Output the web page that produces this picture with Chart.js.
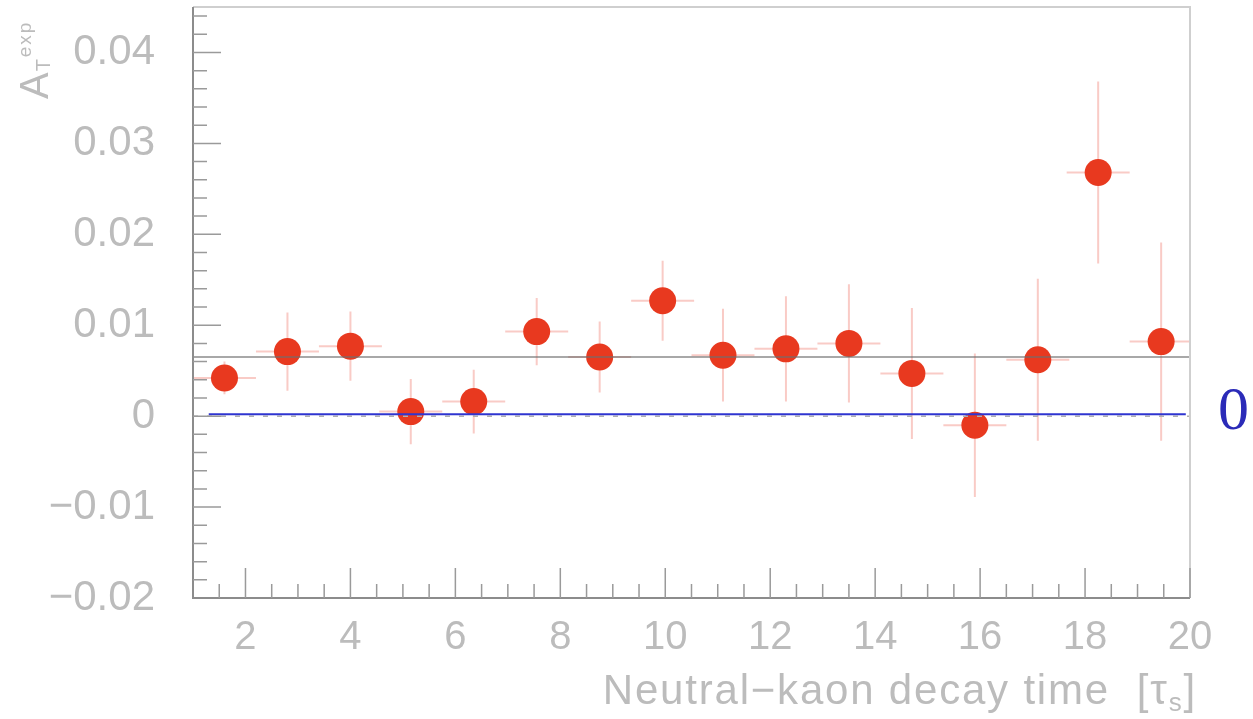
<!DOCTYPE html>
<html>
<head>
<meta charset="utf-8">
<script src="https://cdn.jsdelivr.net/npm/chart.js@4.4.1/dist/chart.umd.min.js"></script>
<style>
  html, body { margin: 0; padding: 0; background: #fff; }
  canvas { display: block; }
</style>
</head>
<body>
<canvas id="chart" width="1253" height="719"></canvas>
<script>
// bin centres (in units of tau_S) and measured asymmetry per bin
const decayTime = [1.6, 2.8, 4.0, 5.15, 6.35, 7.55, 8.75, 9.95, 11.1, 12.3, 13.5, 14.7, 15.9, 17.1, 18.25, 19.45];
const asymmetry = [0.0042, 0.0071, 0.0077, 0.0005, 0.0016, 0.0093, 0.0065, 0.0127, 0.0067, 0.0074, 0.0080, 0.0047, -0.0010, 0.0062, 0.0268, 0.0082];
const asymErr = [0.0018, 0.0043, 0.0038, 0.0036, 0.0035, 0.0037, 0.0039, 0.0044, 0.0051, 0.0058, 0.0065, 0.0072, 0.0079, 0.0089, 0.0100, 0.0109];
const binHalfWidth = [0.6, 0.6, 0.6, 0.6, 0.6, 0.6, 0.6, 0.6, 0.6, 0.6, 0.6, 0.6, 0.6, 0.6, 0.6, 0.6];

const meanAsym = 0.0065;
const zeroMark = 0.0002;
const zeroMarkRange = [1.3, 19.92];

const xTicks = [2, 4, 6, 8, 10, 12, 14, 16, 18, 20];
const yTicks = [-0.02, -0.01, 0, 0.01, 0.02, 0.03, 0.04];

const X_MIN = 1, X_MAX = 20;
const Y_MIN = -0.02, Y_MAX = 0.045;

const LABEL_GREY = "#bcbcbc";
const AXIS_GREY = "#8c8c8c";
const FONT = "'Liberation Sans', Arial, sans-serif";

function formatY(v) {
  if (Math.abs(v) < 1e-9) return "0";
  const s = Math.abs(v).toFixed(2);
  return v < 0 ? "\u2212" + s : s;
}

const points = decayTime.map((t, i) => ({ x: t, y: asymmetry[i] }));

const rootStyle = {
  id: "rootStyle",
  beforeDatasetsDraw(chart) {
    const { ctx, chartArea, scales } = chart;
    const xs = scales.x, ys = scales.y;
    ctx.save();
    ctx.beginPath();
    ctx.rect(chartArea.left, chartArea.top, chartArea.right - chartArea.left, chartArea.bottom - chartArea.top);
    ctx.clip();
    ctx.strokeStyle = "rgba(240,130,120,0.42)";
    ctx.lineWidth = 2;
    decayTime.forEach((t, i) => {
      const px = xs.getPixelForValue(t);
      const py = ys.getPixelForValue(asymmetry[i]);
      ctx.beginPath();
      ctx.moveTo(xs.getPixelForValue(t - binHalfWidth[i]), py);
      ctx.lineTo(xs.getPixelForValue(t + binHalfWidth[i]), py);
      ctx.moveTo(px, ys.getPixelForValue(asymmetry[i] - asymErr[i]));
      ctx.lineTo(px, ys.getPixelForValue(asymmetry[i] + asymErr[i]));
      ctx.stroke();
    });
    ctx.restore();
  },
  afterDraw(chart) {
    const { ctx, chartArea, scales } = chart;
    const xs = scales.x, ys = scales.y;
    const { left, right, top, bottom } = chartArea;

    ctx.save();
    // frame
    ctx.lineWidth = 2;
    ctx.strokeStyle = "#cfcfcf";
    ctx.beginPath();
    ctx.moveTo(left, top);
    ctx.lineTo(right, top);
    ctx.lineTo(right, bottom);
    ctx.stroke();
    ctx.strokeStyle = AXIS_GREY;
    ctx.beginPath();
    ctx.moveTo(left, top);
    ctx.lineTo(left, bottom);
    ctx.lineTo(right, bottom);
    ctx.stroke();

    // inward ticks
    ctx.lineWidth = 1.5;
    ctx.strokeStyle = "#9a9a9a";
    ctx.beginPath();
    for (let k = 0; k <= 38; k++) {
      const v = X_MIN + k * 0.5;
      if (v <= X_MIN || v > X_MAX) continue;
      const px = xs.getPixelForValue(v);
      const major = Math.abs(v / 2 - Math.round(v / 2)) < 1e-6;
      ctx.moveTo(px, bottom);
      ctx.lineTo(px, bottom - (major ? 30 : 14));
    }
    for (let k = 0; k <= 32; k++) {
      const v = Y_MIN + k * 0.002;
      if (v <= Y_MIN + 1e-9 || v > Y_MAX) continue;
      const py = ys.getPixelForValue(v);
      const major = Math.abs(v / 0.01 - Math.round(v / 0.01)) < 1e-6;
      ctx.moveTo(left, py);
      ctx.lineTo(left + (major ? 28 : 14), py);
    }
    ctx.stroke();

    // x title
    ctx.fillStyle = LABEL_GREY;
    ctx.textBaseline = "alphabetic";
    ctx.textAlign = "left";
    ctx.letterSpacing = "1.8px";
    const main = "Neutral\u2212kaon decay time  [\u03c4";
    ctx.font = "26px " + FONT;
    const subW = ctx.measureText("s").width;
    ctx.font = "42px " + FONT;
    const closeW = ctx.measureText("]").width;
    const mainW = ctx.measureText(main).width;
    const endX = 1197;
    const baseY = 704;
    const x0 = endX - closeW - subW - mainW;
    ctx.fillText(main, x0, baseY);
    ctx.font = "26px " + FONT;
    ctx.fillText("s", x0 + mainW, baseY + 7);
    ctx.font = "42px " + FONT;
    ctx.fillText("]", x0 + mainW + subW, baseY);
    ctx.letterSpacing = "0px";

    // y title  A_T^exp, rotated
    ctx.save();
    ctx.translate(48, 99);
    ctx.rotate(-Math.PI / 2);
    ctx.font = "40px " + FONT;
    ctx.fillText("A", 0, 0);
    const aW = ctx.measureText("A").width;
    ctx.font = "20px " + FONT;
    ctx.fillText("T", aW + 1, 2);
    ctx.font = "19px " + FONT;
    ctx.letterSpacing = "2px";
    ctx.fillText("exp", aW + 15, -17);
    ctx.restore();

    // blue zero marker label
    ctx.fillStyle = "#2b2bb8";
    ctx.font = "62px 'Liberation Serif', 'Times New Roman', serif";
    ctx.textAlign = "left";
    ctx.textBaseline = "middle";
    ctx.fillText("0", 1218, ys.getPixelForValue(zeroMark) - 2);
    ctx.restore();
  }
};

new Chart(document.getElementById("chart"), {
  type: "scatter",
  data: {
    datasets: [
      {
        label: "zero marker",
        data: [{ x: zeroMarkRange[0], y: zeroMark }, { x: zeroMarkRange[1], y: zeroMark }],
        showLine: true,
        borderColor: "#2f35d0",
        borderWidth: 2,
        pointRadius: 0
      },
      {
        label: "mean",
        data: [{ x: X_MIN, y: meanAsym }, { x: X_MAX, y: meanAsym }],
        showLine: true,
        borderColor: "rgba(110,110,110,0.6)",
        borderWidth: 2,
        pointRadius: 0
      },
      {
        label: "zero",
        data: [{ x: X_MIN, y: 0 }, { x: X_MAX, y: 0 }],
        showLine: true,
        borderColor: "#b0b0b0",
        borderWidth: 1.5,
        borderDash: [5, 9],
        pointRadius: 0
      },
      {
        label: "A_T",
        data: points,
        pointRadius: 13.5,
        pointHoverRadius: 13.5,
        pointBackgroundColor: "#e8391f",
        pointBorderWidth: 0,
        borderColor: "#e8391f"
      }
    ]
  },
  options: {
    responsive: false,
    animation: false,
    layout: { autoPadding: false, padding: { top: 7, right: 63, left: 0, bottom: 0 } },
    plugins: {
      legend: { display: false },
      tooltip: { enabled: false }
    },
    scales: {
      x: {
        type: "linear",
        min: X_MIN,
        max: X_MAX,
        afterBuildTicks: s => { s.ticks = xTicks.map(v => ({ value: v })); },
        afterFit: s => { s.height = 121; s.paddingLeft = 0; s.paddingRight = 0; },
        grid: { display: false, drawTicks: false },
        border: { display: false },
        ticks: {
          color: LABEL_GREY,
          padding: 16,
          maxRotation: 0,
          font: { family: FONT, size: 40 }
        }
      },
      y: {
        type: "linear",
        min: Y_MIN,
        max: Y_MAX,
        afterBuildTicks: s => { s.ticks = yTicks.map(v => ({ value: v })); },
        afterFit: s => { s.width = 193; s.paddingTop = 0; s.paddingBottom = 0; },
        grid: { display: false, drawTicks: false },
        border: { display: false },
        ticks: {
          color: LABEL_GREY,
          padding: 38,
          callback: v => formatY(v),
          font: { family: FONT, size: 42 }
        }
      }
    }
  },
  plugins: [rootStyle]
});
</script>
</body>
</html>
